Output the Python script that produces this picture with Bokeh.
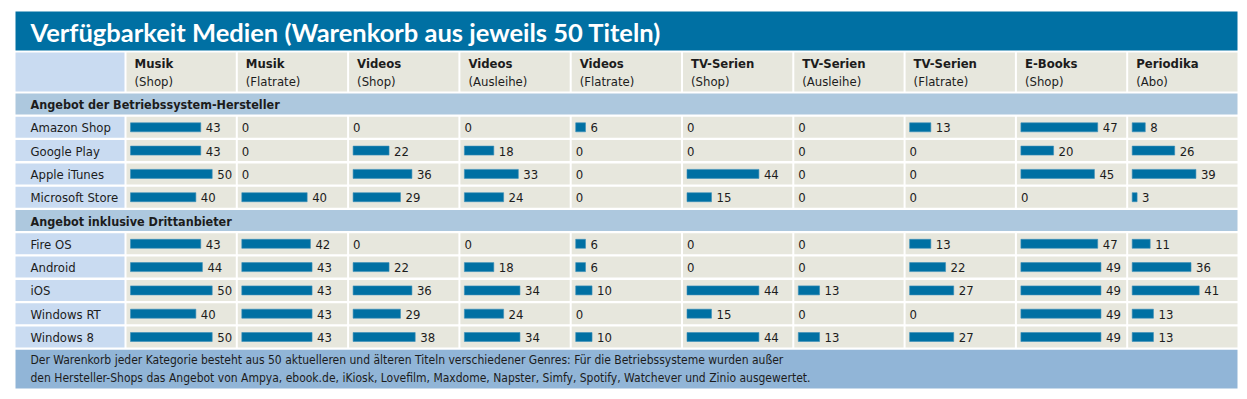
from bokeh.plotting import figure
from bokeh.models import Range1d
from bokeh.core.properties import value
from bokeh.embed import file_html
from bokeh.resources import INLINE

# ---------------- data ----------------
title = "Verfügbarkeit Medien (Warenkorb aus jeweils 50 Titeln)"
col_main = ["Musik", "Musik", "Videos", "Videos", "Videos",
            "TV-Serien", "TV-Serien", "TV-Serien", "E-Books", "Periodika"]
col_sub = ["(Shop)", "(Flatrate)", "(Shop)", "(Ausleihe)", "(Flatrate)",
           "(Shop)", "(Ausleihe)", "(Flatrate)", "(Shop)", "(Abo)"]

section1 = "Angebot der Betriebssystem-Hersteller"
rows1 = ["Amazon Shop", "Google Play", "Apple iTunes", "Microsoft Store"]
amazon_shop = [43, 0, 0, 0, 6, 0, 0, 13, 47, 8]
google_play = [43, 0, 22, 18, 0, 0, 0, 0, 20, 26]
apple_itunes = [50, 0, 36, 33, 0, 44, 0, 0, 45, 39]
microsoft_store = [40, 40, 29, 24, 0, 15, 0, 0, 0, 3]

section2 = "Angebot inklusive Drittanbieter"
rows2 = ["Fire OS", "Android", "iOS", "Windows RT", "Windows 8"]
fire_os = [43, 42, 0, 0, 6, 0, 0, 13, 47, 11]
android = [44, 43, 22, 18, 6, 0, 0, 22, 49, 36]
ios = [50, 43, 36, 34, 10, 44, 13, 27, 49, 41]
windows_rt = [40, 43, 29, 24, 0, 15, 0, 0, 49, 13]
windows_8 = [50, 43, 38, 34, 10, 44, 13, 27, 49, 13]

footer_lines = [
    "Der Warenkorb jeder Kategorie besteht aus 50 aktuelleren und älteren Titeln verschiedener Genres: Für die Betriebssysteme wurden außer",
    "den Hersteller-Shops das Angebot von Ampya, ebook.de, iKiosk, Lovefilm, Maxdome, Napster, Simfy, Spotify, Watchever und Zinio ausgewertet.",
]

# ---------------- layout / style ----------------
BLUE = "#0070a3"
BEIGE = "#e7e7dd"
LABEL_BG = "#c9dbf1"
SECTION_BG = "#adc8de"
FOOTER_BG = "#91b5d7"
TXT = "#1c1c1c"
NARROW = value("DejaVu Sans Condensed")

W, H = 1240, 392
X0, X1 = 15, 1237
LABEL_R = 124
COL0 = 126
PITCH = (X1 + 2 - COL0) / 10
GAP = 2
ROW0 = 93.0
ROW_PITCH = 23.3
ROW_H = 21
SCALE = 81.7 / 50

p = figure(width=W, height=H, x_range=Range1d(0, W), y_range=Range1d(H, 0),
           output_backend="svg", toolbar_location=None, min_border=0,
           x_axis_location=None, y_axis_location=None)
p.grid.visible = False
p.outline_line_color = None
p.background_fill_color = "white"
p.border_fill_color = "white"

# title bar
p.quad(left=[X0], right=[X1], top=[11], bottom=[50], color=BLUE, line_color=None)
p.text(x=[30], y=[31], text=[title], text_color="white", text_font=value("Lato"),
       text_font_style="bold", text_font_size="25.5px", text_baseline="middle")

# header row
p.quad(left=[X0], right=[LABEL_R], top=[52], bottom=[91], color=LABEL_BG, line_color=None)
hl = [COL0 + i * PITCH for i in range(10)]
p.quad(left=hl, right=[x + PITCH - GAP for x in hl], top=[52] * 10, bottom=[91] * 10,
       color=BEIGE, line_color=None)
p.text(x=[x + 8 for x in hl], y=[63] * 10, text=col_main, text_color=TXT, text_font=NARROW,
       text_font_style="bold", text_font_size="13px", text_baseline="middle")
p.text(x=[x + 8 for x in hl], y=[81] * 10, text=col_sub, text_color=TXT, text_font=NARROW,
       text_font_size="13px", text_baseline="middle")

# rows
table = [("section", section1, None)]
table += [("row", n, v) for n, v in zip(rows1, [amazon_shop, google_play, apple_itunes, microsoft_store])]
table += [("section", section2, None)]
table += [("row", n, v) for n, v in zip(rows2, [fire_os, android, ios, windows_rt, windows_8])]

sec_top, sec_name = [], []
lab_top, lab_name = [], []
cell_l, cell_top = [], []
bar_l, bar_r, bar_y = [], [], []
val_x, val_y, val_t = [], [], []

for k, (kind, name, vals) in enumerate(table):
    top = ROW0 + k * ROW_PITCH
    if kind == "section":
        sec_top.append(top)
        sec_name.append(name)
        continue
    lab_top.append(top)
    lab_name.append(name)
    yc = top + ROW_H / 2
    for i, v in enumerate(vals):
        cl = COL0 + i * PITCH
        cell_l.append(cl)
        cell_top.append(top)
        if v > 0:
            bar_l.append(cl + 4)
            bar_r.append(cl + 4 + v * SCALE)
            bar_y.append(yc)
            val_x.append(cl + 4 + v * SCALE + 5)
        else:
            val_x.append(cl + 4)
        val_y.append(yc + 0.5)
        val_t.append(str(v))

p.quad(left=[X0] * len(sec_top), right=[X1] * len(sec_top), top=sec_top,
       bottom=[t + ROW_H for t in sec_top], color=SECTION_BG, line_color=None)
p.text(x=[30] * len(sec_top), y=[t + ROW_H / 2 + 0.5 for t in sec_top], text=sec_name,
       text_color=TXT, text_font=NARROW, text_font_style="bold", text_font_size="12.5px",
       text_baseline="middle")

p.quad(left=[X0] * len(lab_top), right=[LABEL_R] * len(lab_top), top=lab_top,
       bottom=[t + ROW_H for t in lab_top], color=LABEL_BG, line_color=None)
p.text(x=[30] * len(lab_top), y=[t + ROW_H / 2 + 0.5 for t in lab_top], text=lab_name,
       text_color=TXT, text_font=NARROW, text_font_size="13px", text_baseline="middle")

p.quad(left=cell_l, right=[x + PITCH - GAP for x in cell_l], top=cell_top,
       bottom=[t + ROW_H for t in cell_top], color=BEIGE, line_color=None)

p.quad(left=bar_l, right=bar_r, top=[y - 4.5 for y in bar_y], bottom=[y + 4.5 for y in bar_y],
       fill_color=BLUE, line_color="#3a8fb8", line_width=0.6)
p.text(x=val_x, y=val_y, text=val_t, text_color=TXT, text_font=NARROW,
       text_font_size="13px", text_baseline="middle")

# footer
ftop = ROW0 + len(table) * ROW_PITCH
p.quad(left=[X0], right=[X1], top=[ftop], bottom=[388], color=FOOTER_BG, line_color=None)
p.text(x=[30, 30], y=[ftop + 10, ftop + 28.5], text=footer_lines, text_color=TXT,
       text_font=NARROW, text_font_size="12px", text_baseline="middle")

open("out.html", "w").write(file_html(p, INLINE))
